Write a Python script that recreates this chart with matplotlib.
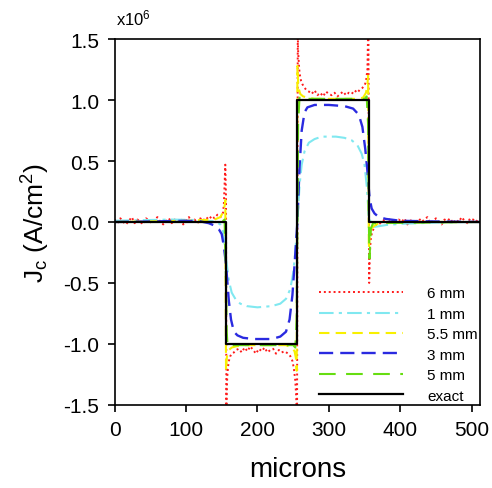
import matplotlib
matplotlib.use("Agg")
import matplotlib.pyplot as plt

plt.rcParams['font.family'] = ['Liberation Sans', 'DejaVu Sans']
plt.rcParams['mathtext.fontset'] = 'custom'
plt.rcParams['mathtext.rm'] = 'Liberation Sans'
plt.rcParams['mathtext.default'] = 'regular'

# exact profile
x_exact = [0, 156, 156, 256, 256, 356, 356, 512]
y_exact = [0, 0, -1, -1, 1, 1, 0, 0]

# 1 mm
x_1mm = [0, 40, 80, 120, 140, 148, 152, 156, 160, 164, 170, 176, 185, 200, 220, 232, 240, 246,
         250, 253, 256, 259, 262, 266, 272, 280, 290, 310, 322, 332, 340, 346, 350, 353, 356,
         360, 364, 370, 380, 400, 450, 512]
y_1mm = [0.01, 0.015, 0.02, 0.015, 0.005, -0.02, -0.08, -0.3, -0.48, -0.58, -0.64, -0.67, -0.69,
         -0.70, -0.69, -0.67, -0.63, -0.55, -0.42, -0.25, 0.0, 0.3, 0.47, 0.58, 0.65, 0.68, 0.70,
         0.70, 0.69, 0.67, 0.63, 0.56, 0.47, 0.3, 0.05, -0.03, -0.04, -0.035, -0.025, -0.015, -0.005, 0.0]

# 3 mm
x_3mm = [0, 60, 100, 120, 132, 140, 146, 150, 153, 156, 158, 160, 163, 167, 172, 180, 195, 220,
         232, 240, 245, 249, 252, 256, 259, 262, 266, 270, 280, 300, 322, 334, 342, 347, 351, 354,
         357, 360, 364, 370, 380, 400, 440, 512]
y_3mm = [0.0, 0.005, 0.01, 0.005, -0.01, -0.03, -0.06, -0.1, -0.2, -0.35, -0.5, -0.65, -0.8, -0.9,
         -0.93, -0.95, -0.96, -0.96, -0.94, -0.9, -0.8, -0.6, -0.35, 0.0, 0.45, 0.75, 0.9, 0.94,
         0.96, 0.96, 0.95, 0.93, 0.88, 0.78, 0.6, 0.42, 0.2, 0.11, 0.07, 0.04, 0.025, 0.01, 0.005, 0.0]

# 5.5 mm
x_55mm = [0, 100, 140, 148, 152, 154, 155, 156, 157, 158, 160, 164, 170, 180, 240, 248, 252, 254,
          255, 256, 257, 258, 260, 264, 270, 280, 340, 348, 352, 354, 355, 356, 357, 358, 360, 364,
          370, 380, 512]
y_55mm = [0.0, 0.01, 0.02, 0.04, 0.08, 0.13, 0.18, -1.22, -1.12, -1.08, -1.05, -1.03, -1.02, -1.01,
          -1.01, -1.03, -1.06, -1.12, -1.22, 1.28, 1.15, 1.09, 1.05, 1.03, 1.02, 1.01, 1.01, 1.02,
          1.06, 1.12, 1.2, -0.22, -0.14, -0.09, -0.05, -0.03, -0.01, 0.0, 0.0]

# 5 mm
x_5mm = [0, 150, 154, 156, 157, 158, 160, 165, 250, 253, 255, 256, 257, 259, 262, 350, 353, 355,
         356, 357, 359, 362, 512]
y_5mm = [0.0, 0.0, 0.02, -0.5, -0.9, -1.0, -1.03, -1.01, -1.01, -1.03, -0.8, 0.0, 0.8, 1.03, 1.01,
         1.01, 1.03, 0.8, 0.0, -0.3, -0.05, -0.01, 0.0]

# 6 mm (noisy)
x_6mm = (list(range(0, 152, 4))
         + [150, 152, 153, 154, 155, 156, 156.5, 157, 158, 159, 160, 162, 164, 167, 170]
         + list(range(174, 242, 4))
         + [243, 246, 249, 251, 253, 254, 255, 255.5, 256.5, 257, 258, 259, 261, 263, 266, 269]
         + list(range(272, 346, 4))
         + [347, 350, 352, 354, 355, 355.5, 356.5, 357, 358, 359, 361, 363, 366, 370]
         + list(range(374, 513, 4)))
y_6mm = ([0.02, -0.01, 0.03, 0.0, -0.02, 0.01, 0.04, -0.01, 0.02, 0.0, -0.02, 0.03, 0.01, -0.01,
          0.02, 0.04, 0.0, -0.02, 0.01, 0.03, -0.01, 0.02, 0.0, 0.03, -0.02, 0.01, 0.04, 0.0, 0.02,
          -0.01, 0.03, 0.01, 0.04, 0.02, 0.05, 0.03, 0.06, 0.04]
         + [0.05, 0.08, 0.15, 0.3, 0.47, 0.2, -1.55, -1.35, -1.25, -1.18, -1.14, -1.1, -1.08, -1.07, -1.05]
         + [-1.04, -1.07, -1.03, -1.06, -1.02, -1.05, -1.08, -1.04, -1.06, -1.03, -1.07, -1.05,
            -1.04, -1.08, -1.05, -1.07, -1.06]
         + [-1.08, -1.1, -1.14, -1.2, -1.3, -1.4, -1.55, -1.55, 1.55, 1.4, 1.3, 1.22, 1.16, 1.13, 1.1, 1.08]
         + [1.07, 1.05, 1.08, 1.04, 1.06, 1.03, 1.07, 1.05, 1.04, 1.06, 1.03, 1.05, 1.07, 1.04,
            1.06, 1.05, 1.08, 1.06, 1.09]
         + [1.1, 1.12, 1.15, 1.25, 1.55, 1.55, -0.5, -0.35, -0.2, -0.12, -0.08, -0.05, -0.03, -0.02]
         + [0.0, 0.02, -0.01, 0.03, 0.01, -0.01, 0.02, 0.0, 0.03, -0.02, 0.01, 0.02, -0.01, 0.03,
            0.0, 0.02, 0.04, -0.01, 0.01, 0.03, 0.0, -0.02, 0.02, 0.01, 0.03, -0.01, 0.02, 0.0,
            0.04, 0.01, -0.01, 0.03, 0.02, 0.0, 0.03])

fig = plt.figure(figsize=(4.92, 4.89), dpi=100)
ax = fig.add_axes([0.233, 0.170, 0.743, 0.748])

ax.plot(x_6mm, y_6mm, color='#ff1a1a', linestyle=(0, (1, 1.5)), lw=1.4, label='6 mm')
ax.plot(x_1mm, y_1mm, color='#80e8f0', linestyle=(0, (7, 2.5, 1.5, 2.5)), lw=1.5, label='1 mm')
ax.plot(x_55mm, y_55mm, color='#f8f000', linestyle=(0, (5, 3)), lw=1.5, label='5.5 mm')
ax.plot(x_3mm, y_3mm, color='#2a2ae0', linestyle=(0, (6, 3)), lw=1.7, label='3 mm')
ax.plot(x_5mm, y_5mm, color='#66dd11', linestyle=(0, (8, 5)), lw=1.5, label='5 mm')
ax.plot(x_exact, y_exact, color='black', lw=1.6, label='exact')

ax.set_xlim(0, 512)
ax.set_ylim(-1.5, 1.5)
ax.set_xticks([0, 100, 200, 300, 400, 500])
ax.set_yticks([-1.5, -1.0, -0.5, 0.0, 0.5, 1.0, 1.5])
ax.set_yticklabels(['-1.5', '-1.0', '-0.5', '0.0', '0.5', '1.0', '1.5'])
ax.tick_params(direction='out', length=5, width=1.2, labelsize=15, pad=6)
for s in ax.spines.values():
    s.set_linewidth(1.2)

ax.set_xlabel('microns', fontsize=20, labelpad=12)
ax.set_ylabel('J$_c$ (A/cm$^2$)', fontsize=19, labelpad=8)
fig.text(0.236, 0.962, 'x10$^6$', fontsize=12, ha='left', va='center')

ax.legend(loc='lower right', frameon=False, fontsize=11, handlelength=5.5,
          handletextpad=1.6, labelspacing=0.42, borderaxespad=0.05, borderpad=0.1)

fig.savefig('out.png', dpi=100)
